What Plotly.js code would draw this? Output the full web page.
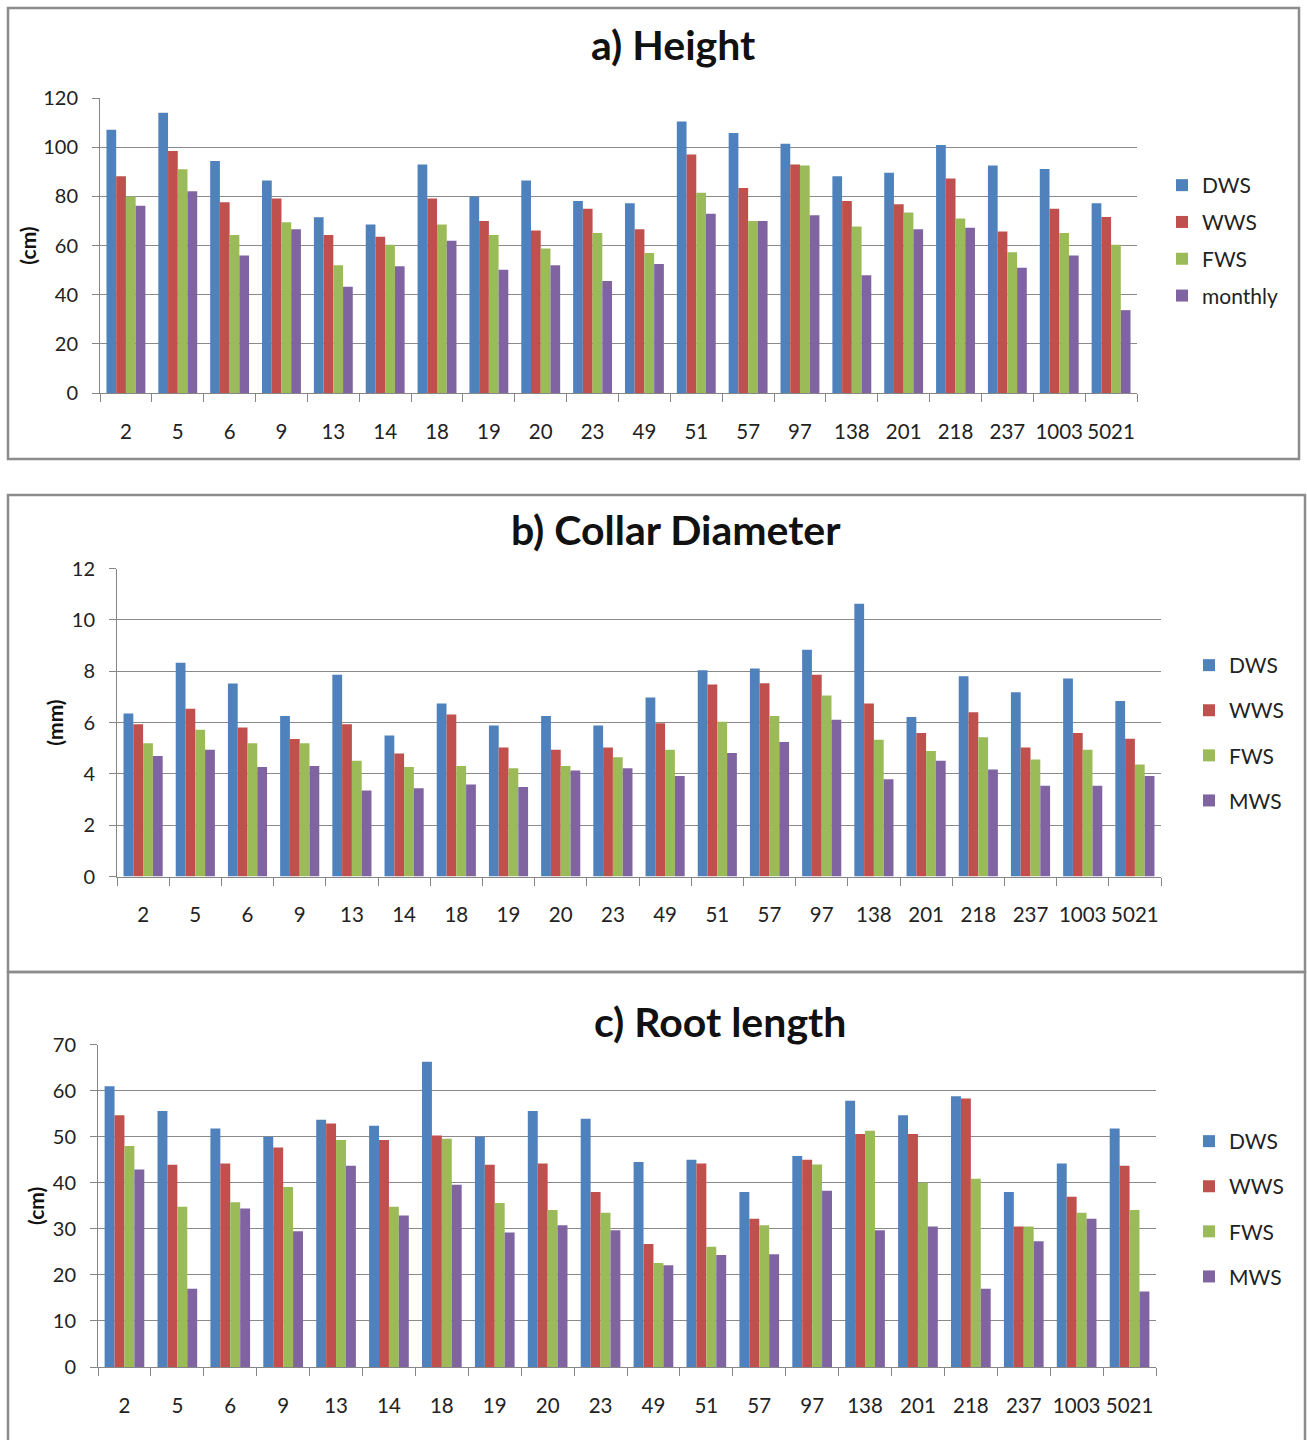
<!DOCTYPE html>
<html>
<head>
<meta charset="utf-8">
<script src="https://cdn.plot.ly/plotly-3.0.1.min.js"></script>
<style>
  html, body { margin: 0; padding: 0; background: #ffffff; }
  #chart { width: 1307px; height: 1440px; }
</style>
</head>
<body>
<div id="chart"></div>
<script>
// ---------- data ----------
const categories = ["2","5","6","9","13","14","18","19","20","23","49","51","57","97","138","201","218","237","1003","5021"];

const heightDWS     = [107.1,114.0,94.4,86.4,71.5,68.5,92.9,79.9,86.4,78.1,77.2,110.4,105.8,101.4,88.2,89.6,100.9,92.5,91.1,77.2];
const heightWWS     = [88.2,98.4,77.6,79.1,64.3,63.6,79.1,70.0,66.1,74.9,66.6,97.0,83.4,92.9,78.1,76.8,87.3,65.7,74.9,71.6];
const heightFWS     = [79.9,91.0,64.3,69.5,52.0,60.3,68.5,64.3,58.8,65.1,56.9,81.5,70.0,92.5,67.7,73.4,71.0,57.3,65.1,60.3];
const heightMonthly = [76.2,82.1,55.9,66.6,43.2,51.6,61.9,50.1,52.0,45.6,52.5,72.9,70.0,72.3,47.9,66.6,67.2,50.9,55.9,33.7];

const collarDWS = [6.35,8.33,7.52,6.25,7.86,5.49,6.74,5.88,6.25,5.88,6.97,8.04,8.10,8.83,10.63,6.21,7.80,7.18,7.71,6.84];
const collarWWS = [5.93,6.54,5.81,5.36,5.93,4.79,6.31,5.03,4.94,5.03,5.97,7.48,7.53,7.86,6.74,5.59,6.40,5.03,5.59,5.37];
const collarFWS = [5.19,5.72,5.19,5.19,4.51,4.27,4.31,4.22,4.31,4.65,4.94,6.03,6.25,7.05,5.33,4.89,5.43,4.56,4.94,4.36];
const collarMWS = [4.69,4.94,4.27,4.31,3.35,3.44,3.58,3.49,4.13,4.22,3.92,4.81,5.24,6.11,3.79,4.51,4.17,3.54,3.54,3.92];

const rootDWS = [61.0,55.6,51.8,50.0,53.7,52.4,66.3,50.0,55.6,53.9,44.5,45.0,38.0,45.8,57.8,54.7,58.8,38.0,44.2,51.8];
const rootWWS = [54.7,43.9,44.2,47.7,52.9,49.3,50.3,43.9,44.2,38.0,26.7,44.2,32.2,45.0,50.6,50.6,58.3,30.5,37.0,43.7];
const rootFWS = [48.0,34.8,35.8,39.1,49.3,34.8,49.6,35.6,34.1,33.5,22.6,26.1,30.8,44.0,51.3,40.0,40.9,30.5,33.5,34.1];
const rootMWS = [42.9,17.0,34.4,29.5,43.7,32.9,39.6,29.2,30.8,29.7,22.1,24.3,24.5,38.3,29.7,30.5,17.0,27.3,32.2,16.4];

const seriesNamesA = ["DWS","WWS","FWS","monthly"];
const seriesNamesBC = ["DWS","WWS","FWS","MWS"];
const panelTitles = ["a) Height","b) Collar Diameter","c) Root length"];
const yTitles = ["(cm)","(mm)","(cm)"];
const yTickValsA = [0,20,40,60,80,100,120];
const yTickValsB = [0,2,4,6,8,10,12];
const yTickValsC = [0,10,20,30,40,50,60,70];

// ---------- styling ----------
const colors = ["#4F81BD","#C0504D","#9BBB59","#8064A2"];
const FONT = "Lato, 'Open Sans', 'DejaVu Sans', sans-serif";
const W = 1307, H = 1440;
const px = v => v / W;
const py = v => 1 - v / H;

const panelData = [
  [heightDWS, heightWWS, heightFWS, heightMonthly],
  [collarDWS, collarWWS, collarFWS, collarMWS],
  [rootDWS, rootWWS, rootFWS, rootMWS]
];
const names = [seriesNamesA, seriesNamesBC, seriesNamesBC];
const legendIds = ["legend","legend2","legend3"];

const traces = [];
panelData.forEach((set, p) => {
  set.forEach((vals, s) => {
    traces.push({
      type: "bar",
      x: categories,
      y: vals,
      name: names[p][s],
      marker: { color: colors[s], line: { width: 0 } },
      xaxis: p === 0 ? "x" : "x" + (p + 1),
      yaxis: p === 0 ? "y" : "y" + (p + 1),
      legend: legendIds[p],
      legendgroup: "p" + p + "s" + s,
      hoverinfo: "x+y+name"
    });
  });
});

const gridColor = "#8a8a8a";
function xAxis(domain, anchor) {
  return {
    domain: domain, anchor: anchor, type: "category",
    showline: true, linecolor: "#868686", linewidth: 1,
    ticks: "outside", ticklen: 8, tickcolor: "#868686", tickson: "boundaries",
    tickangle: 0,
    tickfont: { family: FONT, size: 20.5, color: "#222" },
    ticklabelstandoff: 20,
    showgrid: false, zeroline: false, fixedrange: true
  };
}
function yAxis(domain, anchor, range, tickvals, title, standoff) {
  return {
    domain: domain, anchor: anchor, range: range, tickvals: tickvals,
    showline: true, linecolor: "#868686", linewidth: 1,
    ticks: "outside", ticklen: 7, tickcolor: "#868686",
    tickfont: { family: FONT, size: 20, color: "#222" },
    ticklabelstandoff: 10,
    showgrid: true, gridcolor: gridColor, gridwidth: 1.3,
    zeroline: false, fixedrange: true,
    title: { text: "<b>" + title + "</b>", font: { family: FONT, size: 21, color: "#111" }, standoff: standoff }
  };
}

const legendFont = { family: FONT, size: 21, color: "#222" };
const layout = {
  width: W, height: H,
  margin: { l: 0, r: 0, t: 0, b: 0 },
  paper_bgcolor: "#ffffff", plot_bgcolor: "#ffffff",
  barmode: "group", bargap: 0.25, bargroupgap: 0,
  showlegend: true,
  font: { family: FONT, color: "#222" },
  xaxis:  xAxis([px(100), px(1137)], "y"),
  yaxis:  yAxis([py(393), py(98)], "x", [0,120], yTickValsA, yTitles[0], 0),
  xaxis2: xAxis([px(117), px(1161)], "y2"),
  yaxis2: yAxis([py(876.5), py(568.5)], "x2", [0,12], yTickValsB, yTitles[1], 2),
  xaxis3: xAxis([px(98), px(1156)], "y3"),
  yaxis3: yAxis([py(1367), py(1044.7)], "x3", [0,70], yTickValsC, yTitles[2], 2),
  legend:  { x: px(1162), y: py(165), xanchor: "left", yanchor: "top", font: legendFont, tracegroupgap: 6.5, itemwidth: 30, bgcolor: "rgba(0,0,0,0)" },
  legend2: { x: px(1189), y: py(645), xanchor: "left", yanchor: "top", font: legendFont, tracegroupgap: 14.8, itemwidth: 30, bgcolor: "rgba(0,0,0,0)" },
  legend3: { x: px(1189), y: py(1121), xanchor: "left", yanchor: "top", font: legendFont, tracegroupgap: 14.8, itemwidth: 30, bgcolor: "rgba(0,0,0,0)" },
  annotations: [
    { text: "<b>" + panelTitles[0] + "</b>", x: px(673), y: py(44), xref: "paper", yref: "paper", xanchor: "center", yanchor: "middle", showarrow: false, font: { family: FONT, size: 41, color: "#111" } },
    { text: "<b>" + panelTitles[1] + "</b>", x: px(676), y: py(529), xref: "paper", yref: "paper", xanchor: "center", yanchor: "middle", showarrow: false, font: { family: FONT, size: 41, color: "#111" } },
    { text: "<b>" + panelTitles[2] + "</b>", x: px(720), y: py(1021), xref: "paper", yref: "paper", xanchor: "center", yanchor: "middle", showarrow: false, font: { family: FONT, size: 41, color: "#111" } }
  ],
  shapes: [
    { type: "rect", xref: "paper", yref: "paper", x0: px(8), x1: px(1299), y0: py(459), y1: py(8), line: { color: "#8c8c8c", width: 2.5 }, fillcolor: "rgba(0,0,0,0)", layer: "below" },
    { type: "rect", xref: "paper", yref: "paper", x0: px(8), x1: px(1305), y0: py(972), y1: py(495), line: { color: "#8c8c8c", width: 2.5 }, fillcolor: "rgba(0,0,0,0)", layer: "below" },
    { type: "rect", xref: "paper", yref: "paper", x0: px(8), x1: px(1305), y0: py(1445), y1: py(972), line: { color: "#8c8c8c", width: 2.5 }, fillcolor: "rgba(0,0,0,0)", layer: "below" }
  ]
};

Plotly.newPlot("chart", traces, layout, { displayModeBar: false });
</script>
</body>
</html>
